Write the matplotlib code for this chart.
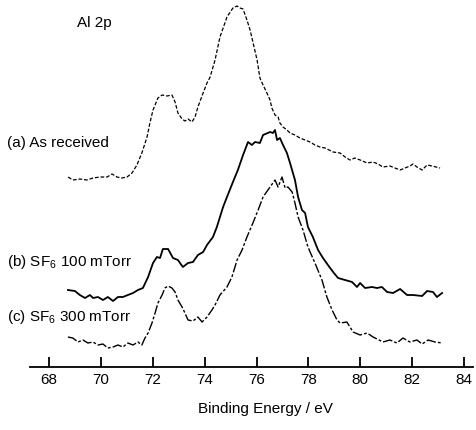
import matplotlib
matplotlib.use("Agg")
import matplotlib.pyplot as plt

plt.rcParams['font.family'] = ['Liberation Sans', 'DejaVu Sans']
plt.rcParams['mathtext.fontset'] = 'custom'
plt.rcParams['mathtext.rm'] = 'Liberation Sans'
plt.rcParams['mathtext.it'] = 'Liberation Sans'

# (a) As received
energy_a = [68.74, 68.92, 69.19, 69.46, 69.70, 69.97, 70.24, 70.43, 70.62, 70.81,
            71.01, 71.20, 71.39, 71.58, 71.78, 71.89, 72.01, 72.20, 72.36, 72.55,
            72.74, 72.86, 72.97, 73.13, 73.24, 73.36, 73.51, 73.63, 73.74, 73.94,
            74.09, 74.21, 74.40, 74.59, 74.86, 75.09, 75.25, 75.36, 75.48, 75.63,
            75.75, 75.86, 76.02, 76.13, 76.25, 76.40, 76.52, 76.59, 76.71, 76.83,
            76.90, 77.02, 77.17, 77.29, 77.48, 77.67, 77.87, 78.06, 78.25, 78.44,
            78.64, 78.95, 79.22, 79.41, 79.60, 79.79, 79.99, 80.26, 80.49, 80.68,
            80.87, 81.14, 81.33, 81.53, 81.72, 81.91, 82.03, 82.18, 82.38, 82.57,
            82.76, 83.07]
counts_a = [190, 187, 188, 187, 189, 190, 190, 193, 190, 189,
            190, 194, 202, 214, 230, 244, 257, 269, 272, 271,
            272, 265, 254, 248, 246, 248, 245, 250, 260, 274,
            284, 290, 307, 330, 350, 359, 361, 359, 358, 347,
            337, 325, 307, 289, 282, 274, 267, 259, 252, 250,
            244, 240, 237, 234, 232, 229, 227, 225, 222, 220,
            219, 215, 214, 210, 207, 209, 207, 204, 205, 203,
            200, 201, 199, 197, 199, 201, 203, 200, 197, 202,
            201, 199]

# (b) SF6 100 mTorr
energy_b = [68.73, 69.00, 69.19, 69.39, 69.58, 69.70, 69.89, 70.08, 70.27, 70.47,
            70.66, 70.85, 71.04, 71.24, 71.43, 71.62, 71.82, 72.01, 72.16, 72.28,
            72.39, 72.59, 72.78, 72.97, 73.16, 73.36, 73.55, 73.74, 73.94, 74.09,
            74.32, 74.47, 74.71, 74.86, 75.09, 75.28, 75.48, 75.67, 75.82, 75.94,
            76.13, 76.25, 76.52, 76.63, 76.71, 76.79, 76.90, 77.02, 77.17, 77.29,
            77.48, 77.60, 77.75, 77.87, 77.98, 78.17, 78.37, 78.56, 78.75, 78.95,
            79.14, 79.41, 79.68, 79.87, 79.99, 80.18, 80.45, 80.64, 80.83, 81.03,
            81.26, 81.53, 81.80, 82.03, 82.38, 82.57, 82.80, 82.95, 83.15]
counts_b = [77, 76, 72, 69, 72, 69, 70, 67, 70, 66,
            70, 70, 72, 74, 77, 79, 90, 104, 110, 109,
            118, 118, 109, 107, 100, 104, 105, 112, 115, 122,
            130, 140, 160, 170, 185, 197, 212, 225, 222, 225,
            224, 232, 235, 234, 237, 227, 229, 222, 214, 204,
            187, 170, 157, 154, 140, 130, 117, 109, 102, 95,
            89, 87, 85, 80, 84, 79, 80, 79, 80, 75,
            74, 78, 72, 72, 71, 76, 75, 70, 74]

# (c) SF6 300 mTorr
energy_c = [68.73, 68.92, 69.12, 69.31, 69.50, 69.70, 69.89, 70.08, 70.27, 70.47,
            70.66, 70.85, 71.04, 71.24, 71.43, 71.58, 71.70, 71.82, 71.97, 72.09,
            72.20, 72.36, 72.47, 72.59, 72.74, 72.86, 72.97, 73.13, 73.24, 73.36,
            73.55, 73.74, 73.90, 74.09, 74.28, 74.40, 74.59, 74.86, 75.05, 75.25,
            75.44, 75.63, 75.86, 76.06, 76.25, 76.52, 76.71, 76.83, 76.98, 77.10,
            77.21, 77.37, 77.48, 77.60, 77.79, 77.98, 78.25, 78.52, 78.71, 78.91,
            79.10, 79.22, 79.48, 79.72, 79.99, 80.26, 80.49, 80.87, 81.14, 81.41,
            81.64, 81.91, 82.18, 82.38, 82.61, 82.88, 83.15]
counts_c = [30, 29, 25, 27, 24, 25, 22, 23, 19, 20,
            22, 20, 24, 22, 25, 22, 29, 34, 44, 54,
            64, 72, 79, 81, 79, 75, 67, 60, 54, 47,
            46, 50, 45, 50, 57, 62, 72, 80, 90, 107,
            117, 130, 144, 157, 170, 180, 187, 180, 190, 179,
            180, 175, 164, 150, 137, 120, 104, 87, 70, 57,
            47, 44, 45, 35, 32, 34, 30, 25, 27, 24,
            29, 25, 27, 23, 27, 25, 24]

xticks = [68, 70, 72, 74, 76, 78, 80, 82, 84]
title_text = "Al 2p"
labels = ["(a) As received",
          r"(b) SF$_{\mathrm{6}}$ 100 mTorr",
          r"(c) SF$_{\mathrm{6}}$ 300 mTorr"]
xlabel = "Binding Energy / eV"

fig = plt.figure(figsize=(4.77, 4.30), dpi=100)
ax = fig.add_axes([0.0629, 0.1465, 0.9287, 0.8535])

ax.plot(energy_a, counts_a, color='black', lw=0.9, ls=(0, (3, 1.5)))
ax.plot(energy_b, counts_b, color='black', lw=1.3, ls='-')
ax.plot(energy_c, counts_c, color='black', lw=1.0, ls=(0, (7, 1.5, 2, 1.5)))

ax.set_xlim(67.27, 84.34)
ax.set_ylim(0, 367)
for s in ['top', 'left', 'right']:
    ax.spines[s].set_visible(False)
ax.spines['bottom'].set_linewidth(1.3)
ax.set_yticks([])
ax.set_xticks(xticks)
ax.set_xticklabels([str(t) for t in xticks])
ax.tick_params(axis='x', direction='in', length=7, width=1.3, pad=4, labelsize=11)

ax.set_xlabel(xlabel, fontsize=11)
ax.xaxis.set_label_coords((265 - 30) / 443, -0.095)

fs = 11
fig.text(0.161, 0.9465, title_text, fontsize=fs, va='center', ha='left')
fig.text(0.0147, 0.6674, labels[0], fontsize=fs, va='center', ha='left')
fig.text(0.0147, 0.3907, labels[1], fontsize=fs, va='center', ha='left')
fig.text(0.0147, 0.2628, labels[2], fontsize=fs, va='center', ha='left')

fig.savefig("out.png", dpi=100)
